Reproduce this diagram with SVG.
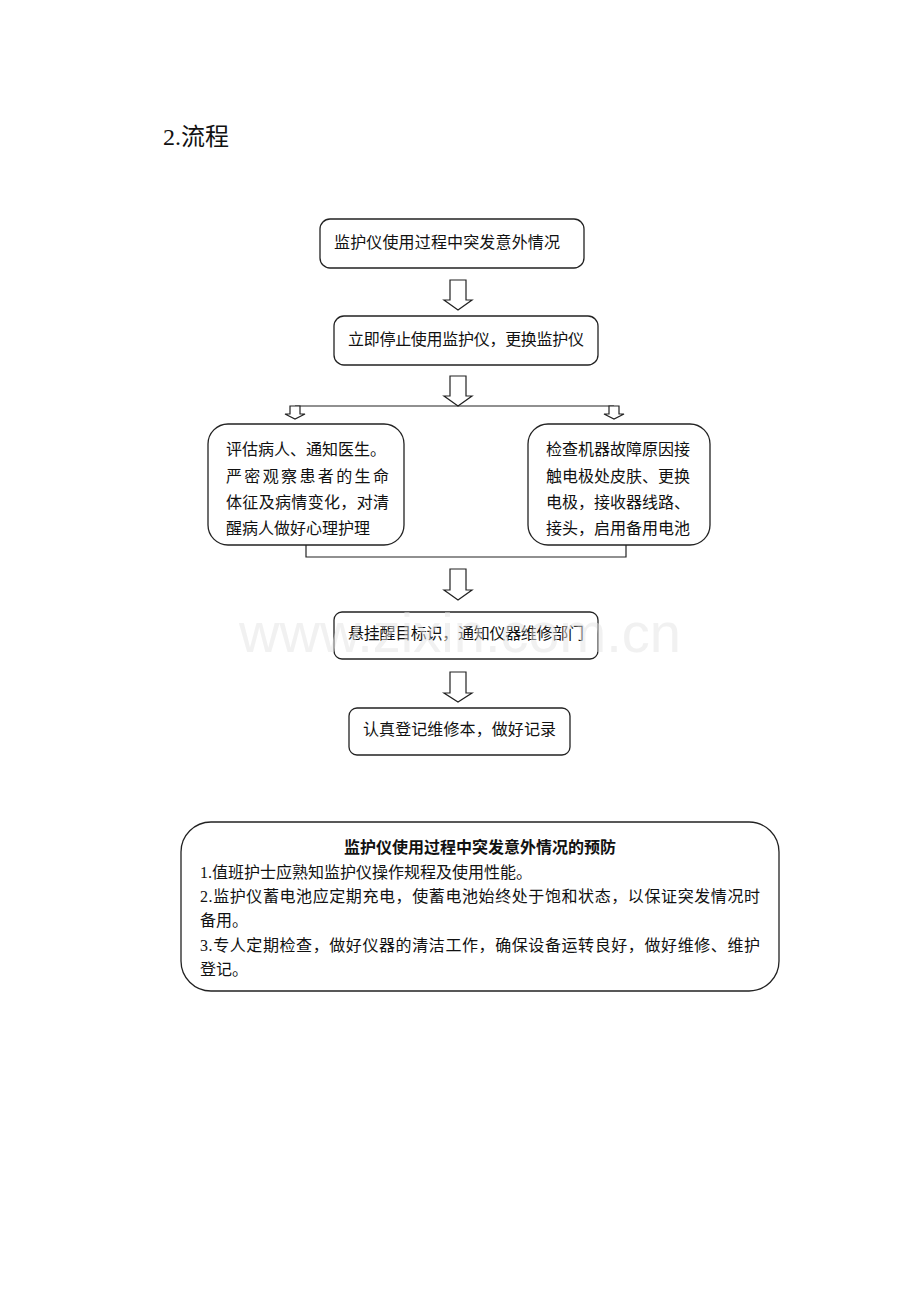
<svg xmlns="http://www.w3.org/2000/svg" width="920" height="1302" viewBox="0 0 920 1302">
<style>
text{font-family:"Liberation Serif","Noto Sans CJK SC",serif;fill:#111;font-size:16px}
.b{fill:#fff;stroke:#222;stroke-width:1.3}
.c{fill:#fff;stroke:#222;stroke-width:1.2}
.l{fill:none;stroke:#222;stroke-width:1.2}
</style>
<rect width="920" height="1302" fill="#fff"/>
<text x="163" y="145" style="font-size:24px">2.流程</text>
<g id="connectors">
<polygon class="c" points="450,280 466,280 466,300 472,300 458,310 444,300 450,300"/>
<polygon class="c" points="450,376 466,376 466,396 472,396 458,406 444,396 450,396"/>
<path class="l" d="M295,406 H614"/>
<polygon class="c" points="290,406 300,406 300,414 305,414 295,419 285,414 290,414"/>
<polygon class="c" points="609,406 619,406 619,414 624,414 614,419 604,414 609,414"/>
<path class="l" d="M306,545 V557 H626 V545"/>
<polygon class="c" points="450,569 466,569 466,590 472,590 458,600 444,590 450,590"/>
<polygon class="c" points="450,672 466,672 466,693 472,693 458,702 444,693 450,693"/>
</g>
<g id="n1"><rect class="b" x="320" y="219" width="264" height="49" rx="10"/><text x="334" y="248" textLength="226" lengthAdjust="spacing">监护仪使用过程中突发意外情况</text></g>
<g id="n2"><rect class="b" x="334" y="316" width="264" height="49" rx="10"/><text x="348" y="345" textLength="236" lengthAdjust="spacing">立即停止使用监护仪，更换监护仪</text></g>
<g id="n3"><rect class="b" x="208" y="424" width="196" height="121" rx="20"/>
<text x="226" y="455">评估病人、通知医生。</text>
<text x="226" y="482" textLength="163" lengthAdjust="spacing">严密观察患者的生命</text>
<text x="226" y="508" textLength="163" lengthAdjust="spacing">体征及病情变化，对清</text>
<text x="226" y="534">醒病人做好心理护理</text></g>
<g id="n4"><rect class="b" x="528" y="424" width="182" height="121" rx="20"/>
<text x="546" y="455">检查机器故障原因接</text>
<text x="546" y="482">触电极处皮肤、更换</text>
<text x="546" y="508">电极，接收器线路、</text>
<text x="546" y="534">接头，启用备用电池</text></g>
<g id="n5"><rect class="b" x="334" y="612" width="264" height="47" rx="8"/><text x="348" y="639" textLength="236" lengthAdjust="spacing">悬挂醒目标识，通知仪器维修部门</text></g>
<g id="n6"><rect class="b" x="349" y="708" width="221" height="47" rx="8"/><text x="363" y="735" textLength="193" lengthAdjust="spacing">认真登记维修本，做好记录</text></g>
<g id="n7"><rect class="b" x="181" y="822" width="598" height="169" rx="30"/>
<text x="480" y="853" text-anchor="middle" style="font-weight:bold">监护仪使用过程中突发意外情况的预防</text>
<text x="200" y="878">1.值班护士应熟知监护仪操作规程及使用性能。</text>
<text x="200" y="902" textLength="560" lengthAdjust="spacing">2.监护仪蓄电池应定期充电，使蓄电池始终处于饱和状态，以保证突发情况时</text>
<text x="200" y="926">备用。</text>
<text x="200" y="951" textLength="560" lengthAdjust="spacing">3.专人定期检查，做好仪器的清洁工作，确保设备运转良好，做好维修、维护</text>
<text x="200" y="975">登记。</text></g>
<text x="460" y="652" text-anchor="middle" style="font-family:'Liberation Sans',sans-serif;font-size:56px;fill:#e4e4e4;fill-opacity:0.5">www.zixin.com.cn</text>
</svg>
